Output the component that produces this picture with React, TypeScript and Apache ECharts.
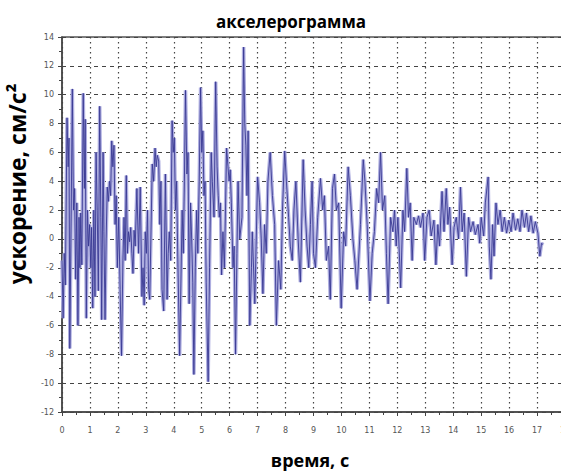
import React, { useEffect, useRef } from "react";
import * as echarts from "echarts";

const chartTitle = "акселерограмма";
const xName = "время, с";
const yName = "ускорение, см/с²";

const times = [
  0.00,0.04,0.08,0.12,0.18,0.22,0.25,0.28,0.33,0.37,0.41,0.45,0.49,0.53,0.57,0.61,0.64,0.67,0.71,0.76,0.80,0.83,0.87,0.91,0.95,0.99,
  1.03,1.06,1.10,1.14,1.18,1.22,1.26,1.30,1.35,1.39,1.42,1.47,1.50,1.54,1.58,1.62,1.66,1.70,1.74,1.78,1.82,1.86,1.90,1.94,1.98,
  2.03,2.08,2.13,2.18,2.22,2.26,2.30,2.34,2.38,2.42,2.46,2.50,2.54,2.58,2.62,2.68,2.74,2.80,2.86,2.90,2.94,2.98,
  3.02,3.06,3.10,3.14,3.18,3.23,3.28,3.33,3.37,3.41,3.46,3.50,3.54,3.58,3.64,3.70,3.76,3.80,3.84,3.89,3.94,3.98,
  4.02,4.06,4.10,4.15,4.21,4.26,4.30,4.34,4.38,4.42,4.47,4.51,4.55,4.60,4.64,4.68,4.72,4.77,4.82,4.86,4.91,4.96,5.00,
  5.04,5.08,5.12,5.16,5.23,5.28,5.34,5.38,5.44,5.50,5.55,5.59,5.63,5.67,5.71,5.76,5.81,5.85,5.89,5.94,5.98,
  6.02,6.06,6.12,6.16,6.21,6.26,6.30,6.36,6.44,6.50,6.54,6.58,6.62,6.66,6.72,6.78,6.81,6.90,7.00,
  7.07,7.13,7.19,7.25,7.31,7.37,7.45,7.53,7.61,7.67,7.75,7.83,7.89,7.97,
  8.03,8.11,8.17,8.24,8.30,8.37,8.45,8.53,8.63,8.70,8.77,8.83,8.89,8.95,
  9.00,9.07,9.15,9.25,9.33,9.39,9.46,9.54,9.60,9.68,9.75,9.82,9.90,9.99,
  10.08,10.15,10.24,10.32,10.41,10.48,10.56,10.68,10.78,10.84,10.92,
  11.02,11.10,11.18,11.26,11.33,11.40,11.47,11.55,11.61,11.67,11.76,11.84,11.90,11.96,
  12.02,12.12,12.20,12.26,12.34,12.40,12.46,12.53,12.59,12.68,12.76,12.83,12.92,12.98,
  13.06,13.14,13.21,13.31,13.38,13.45,13.51,13.60,13.67,13.75,13.81,13.87,13.96,
  14.03,14.11,14.19,14.26,14.32,14.39,14.47,14.55,14.62,14.71,14.79,14.89,14.95,
  15.00,15.09,15.15,15.25,15.29,15.35,15.41,15.46,15.53,15.60,15.68,15.75,15.83,15.91,15.99,
  16.07,16.14,16.23,16.31,16.39,16.46,16.55,16.62,16.70,16.78,16.86,16.94,17.03,17.10,17.16,17.22,
];

const accel = [
  -1.5,-5.5,-1.0,-3.2,8.4,5.0,7.0,-7.6,2.0,10.4,2.0,3.5,-2.8,2.5,-6.0,1.5,-2.0,1.8,-1.8,10.1,3.5,8.3,-5.5,2.0,-0.5,1.0,
  -2.0,0.8,-4.8,2.0,-4.0,6.0,2.0,-3.6,9.2,1.5,-5.6,6.0,0.5,-5.6,0.0,3.6,2.6,4.0,3.0,6.8,5.0,6.5,1.0,3.0,-2.0,
  1.5,-3.5,-8.1,-1.5,1.5,-1.5,4.4,-1.0,0.5,-0.2,0.8,-1.0,-2.4,0.6,-0.5,3.5,-1.0,3.6,-4.0,-2.0,-4.6,0.5,
  -1.0,2.0,-3.5,-4.2,0.0,5.2,4.0,6.3,5.0,5.8,5.4,1.0,4.0,-3.5,-5.0,4.5,-4.2,-1.0,0.5,-1.5,8.2,6.0,
  7.0,2.0,4.0,-2.0,-8.1,-2.5,2.0,-1.0,4.0,10.3,4.5,6.0,-4.5,2.5,0.0,-3.0,-9.4,-2.0,2.0,-1.0,4.0,10.5,6.0,
  7.5,3.0,4.0,-3.0,-9.9,-2.0,6.0,4.0,1.5,10.9,5.0,3.0,1.5,2.5,-2.5,0.5,-2.0,2.0,6.3,5.0,4.0,
  4.8,2.5,-2.0,-0.5,-8.0,-1.0,4.0,0.0,1.5,13.3,8.0,6.5,3.0,7.5,-6.0,-2.0,0.5,-4.5,4.3,
  2.5,0.0,-3.8,1.0,-1.0,4.0,6.0,3.0,1.0,-6.0,-1.5,-3.5,2.0,6.1,
  4.0,1.5,-0.5,-1.5,2.0,4.0,0.0,-3.0,5.5,2.0,-0.5,-2.0,1.0,4.0,
  -1.0,-2.0,1.5,4.2,2.0,3.0,-1.5,-0.5,-4.2,3.5,4.5,2.0,2.5,-4.8,
  0.5,-0.5,5.0,3.0,0.0,-1.5,-3.5,1.0,5.5,4.0,1.0,
  -4.3,-1.0,0.5,3.5,2.5,6.0,2.0,3.0,-1.0,-4.5,1.5,0.5,2.0,-0.5,
  1.5,-3.4,2.0,0.5,4.9,1.5,2.5,-1.5,1.5,1.0,1.6,0.8,1.8,-1.5,
  1.5,2.0,0.2,1.3,-1.8,1.0,-0.5,3.3,0.5,3.5,1.0,2.2,-1.8,
  0.8,1.5,0.0,3.6,0.5,1.8,-2.6,1.5,0.5,1.2,0.3,1.0,-0.3,
  1.5,0.2,2.5,4.3,-0.5,-2.8,1.0,-1.2,2.5,1.0,2.0,0.5,1.5,0.4,1.3,
  0.5,1.8,0.6,1.4,0.5,2.0,0.8,1.8,0.5,1.6,0.4,1.2,0.4,-1.2,-0.3,-0.4,
];

const xMin = 0;
const xMax = 18;
const xStep = 1;
const yMin = -12;
const yMax = 14;
const yStep = 2;

export default function App() {
  const ref = useRef<HTMLDivElement>(null);
  useEffect(() => {
    if (!ref.current) return;
    const chart = echarts.init(ref.current, null, { renderer: "svg" });
    const data = times.map((t, i) => [t, accel[i]]);
    const labelStyle = { color: "#555", fontSize: 8, fontFamily: "DejaVu Sans" };
    chart.setOption({
      animation: false,
      backgroundColor: "#fff",
      grid: {
        left: 62,
        width: 503,
        top: 37,
        bottom: 60,
        show: true,
        borderColor: "#555",
        borderWidth: 1.5,
        containLabel: false,
        outerBoundsMode: "none",
      },
      graphic: [
        {
          type: "text",
          x: 291,
          y: 21,
          style: {
            text: chartTitle,
            fontSize: 17,
            fontWeight: "bold",
            fontFamily: "Open Sans",
            fill: "#000",
            align: "center",
            verticalAlign: "middle",
          },
        },
        {
          type: "text",
          x: 310,
          y: 460,
          style: {
            text: xName,
            fontSize: 18,
            fontWeight: "bold",
            fontFamily: "Open Sans",
            fill: "#000",
            align: "center",
            verticalAlign: "middle",
          },
        },
        {
          type: "text",
          x: 17,
          y: 184,
          rotation: Math.PI / 2,
          style: {
            text: yName,
            fontSize: 23,
            fontWeight: "bold",
            fontFamily: "Open Sans",
            fill: "#000",
            align: "center",
            verticalAlign: "middle",
          },
        },
      ],
      xAxis: {
        type: "value",
        min: xMin,
        max: xMax,
        interval: xStep,
        axisLine: { show: true, onZero: false, lineStyle: { color: "#444", width: 1.5 } },
        axisTick: { show: true, length: 4, lineStyle: { color: "#444" } },
        minorTick: { show: true, splitNumber: 2, length: 3, lineStyle: { color: "#444" } },
        axisLabel: { ...labelStyle, margin: 14 },
        splitLine: { show: true, lineStyle: { color: "#444", type: [1.5, 3.5], width: 1.2 } },
      },
      yAxis: {
        type: "value",
        min: yMin,
        max: yMax,
        interval: yStep,
        axisLine: { show: true, onZero: false, lineStyle: { color: "#444", width: 1.5 } },
        axisTick: { show: true, length: 4, lineStyle: { color: "#444" } },
        minorTick: { show: true, splitNumber: 2, length: 3, lineStyle: { color: "#444" } },
        axisLabel: { ...labelStyle, margin: 8 },
        splitLine: { show: true, lineStyle: { color: "#444", type: [4, 4], width: 1.2 } },
      },
      series: [
        {
          type: "line",
          data,
          showSymbol: false,
          lineStyle: { color: "#aeaee0", width: 3.5 },
          z: 2,
        },
        {
          type: "line",
          data,
          showSymbol: false,
          lineStyle: { color: "#3a3a94", width: 1, opacity: 0.9 },
          z: 3,
        },
      ],
    });
    return () => chart.dispose();
  }, []);
  return (
    <div
      ref={ref}
      style={{ position: "fixed", left: 0, top: 0, width: 561, height: 472 }}
    />
  );
}
